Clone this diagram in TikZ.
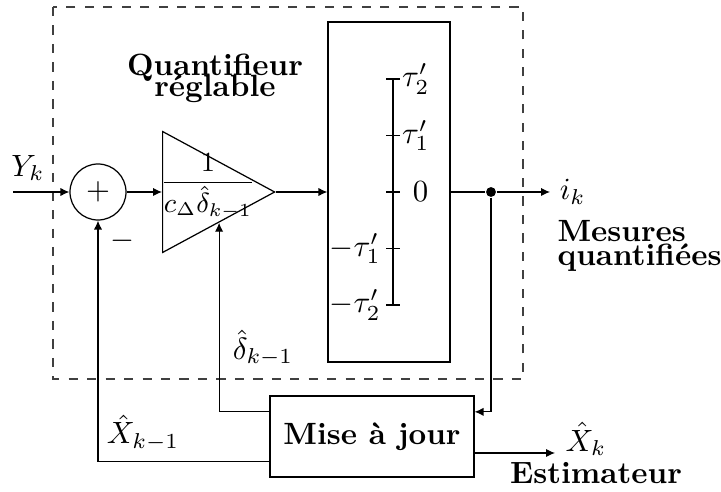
\documentclass[tikz,border=0pt]{standalone}
\usepackage{amsmath,amssymb}
\usepackage{fontspec}
\usepackage{tikz}
\usetikzlibrary{arrows.meta,positioning,shapes.geometric,calc}

\begin{document}
\begin{tikzpicture}[x=0.325pt, y=-0.325pt,
  sumnode/.style={draw, circle, minimum size=18.2pt, inner sep=0pt},
  gainnode/.style={draw, isosceles triangle, isosceles triangle stretches, shape border rotate=0, minimum width=39.3pt, minimum height=36.4pt, inner sep=0pt},
  quantbox/.style={draw, minimum width=39.65pt, minimum height=110.5pt, inner sep=0pt},
  updbox/.style={draw, minimum width=66.3pt, minimum height=26.3pt, font=\bfseries},
  title/.style={font=\bfseries, inner sep=0pt},
  sig/.style={inner sep=1pt},
  arrow/.style={-{Latex[length=2.9pt, width=2.7pt]}},
  frame/.style={draw=black!75, dashed},
]
\useasboundingbox (0,0) rectangle (721,492);

% zone du quantifieur
\draw[frame] (53,7) rectangle (523,379);
\node[title, align=center, anchor=north] (qlbl) at (215,53) {Quantifieur\\[-5pt]réglable};

\coordinate (yin) at (13,192);
\node[sig] (ylbl) at (28,168) {$Y_k$};
\node[sumnode] (sum) at (98,192) {$+$};
\node[sig] (minus) at (122,241) {$-$};

\node[gainnode, anchor=west] (gain) at (162,192) {};
\node[sig, font=\small] (gainlbl) at (208,186) {$\dfrac{1}{c_\Delta\hat{\delta}_{k-1}}$};

\node[quantbox] (quant) at (389,192) {};
\draw (393,79) -- (393,305);
\draw (386,79) -- (400,79) node[right, inner sep=0.5pt] (t2p) {$\tau'_2$};
\draw (386,135.5) -- (400,135.5) node[right, inner sep=0.5pt] (t1p) {$\tau'_1$};
\draw (386,192) -- (400,192) node[right, inner sep=4pt] (tz) {$0$};
\draw (386,248.5) -- (400,248.5);
\draw (386,305) -- (400,305);
\node[left, inner sep=1.5pt] (t1m) at (386,248.5) {$-\tau'_1$};
\node[left, inner sep=1.5pt] (t2m) at (386,305) {$-\tau'_2$};

\node[circle, fill, inner sep=0pt, minimum size=3.2pt] (branch) at (491,192) {};
\coordinate (iout) at (550,192);
\node[right, inner sep=3pt] (ilbl) at (iout) {$i_k$};
\node[title, align=left, anchor=north west] (meslbl) at (557,220) {Mesures\\[-4.2pt]quantifiées};

\node[updbox] (upd) at (372,436.5) {Mise à jour};
\coordinate (xout) at (555,453);
\node[sig] (xlbl) at (586,439) {$\hat{X}_k$};
\node[title] (estlbl) at (596,473) {Estimateur};
\node[sig] (dlbl) at (263,348) {$\hat{\delta}_{k-1}$};
\node[sig] (xmlbl) at (143,433) {$\hat{X}_{k-1}$};

\draw[arrow] (yin) -- (sum);
\draw[arrow] (sum) -- (gain.west);
\draw[arrow] (gain.apex) -- (quant.west);
\draw (quant.east) -- (branch);
\draw[arrow] (branch) -- (iout);
\draw[arrow] (branch) |- ($(upd.north east)!0.2!(upd.south east)$);
\draw[arrow] ($(upd.north west)!0.2!(upd.south west)$) -| (gain.right side);
\draw[arrow] ($(upd.north west)!0.8!(upd.south west)$) -| (sum.south);
\draw[arrow] (upd.east |- xout) -- (xout);

\end{tikzpicture}
\end{document}
